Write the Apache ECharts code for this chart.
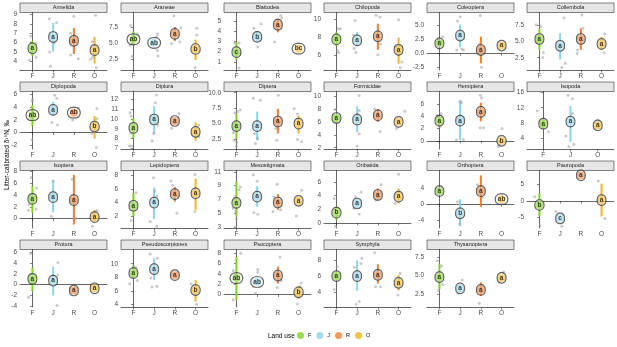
<!DOCTYPE html>
<html>
<head>
<meta charset="utf-8">
<script src="https://cdn.jsdelivr.net/npm/echarts@6/dist/echarts.min.js"></script>
<style>
html, body { margin: 0; padding: 0; background: #fff; }
#main { width: 617px; height: 347px; }
</style>
</head>
<body>
<div id="main"></div>
<script>
var landUse = ['F', 'J', 'R', 'O'];
var landColors = ['#7ED321', '#8ED4E8', '#EE7D33', '#F6B323'];

var taxa = ['Annelida', 'Araneae', 'Blattodea', 'Chilopoda', 'Coleoptera', 'Collembola',
    'Diplopoda', 'Diplura', 'Diptera', 'Formicidae', 'Hemiptera', 'Isopoda',
    'Isoptera', 'Lepidoptera', 'Mesostigmata', 'Oribatida', 'Orthoptera', 'Pauropoda',
    'Protura', 'Pseudoscorpiones', 'Psocoptera', 'Symphyla', 'Thysanoptera'];

// categories shown per panel (Isopoda has no R)
var panelCats = taxa.map(function (t) { return t === 'Isopoda' ? ['F', 'J', 'O'] : landUse; });

// y axis range and ticks per panel
var yMin = [3.1, 0.9, 0.2, 4.4, -3.0, 0.6, -2.6, 6.95, 0.9, 1.8, -1.35, 1.3, -1.6, 0.3, 2.85, -0.75, -5.95, -8.2, -4.2, 3.6, -2.4, 2.15, 0.8];
var yMax = [9.2, 9.8, 5.85, 10.8, 7.35, 9.5, 6.5, 12.8, 10.2, 10.7, 8.1, 16.2, 8.2, 8.7, 11.2, 7.7, 8.5, 9.3, 6.6, 12.1, 8.75, 9.4, 8.5];
var yTicks = [
    [4, 5, 6, 7, 8, 9], [2.5, 5, 7.5], [1, 2, 3, 4, 5], [6, 8, 10], [-2.5, 0, 2.5, 5], [2.5, 5, 7.5],
    [-2, 0, 2, 4, 6], [7, 8, 9, 10, 11, 12], [2.5, 5, 7.5, 10], [2, 4, 6, 8, 10], [0, 2, 4, 6], [4, 8, 12, 16],
    [0, 2, 4, 6, 8], [2, 4, 6, 8], [3, 5, 7, 9, 11], [0, 2, 4, 6], [-4, 0, 4], [-5, 0, 5],
    [-4, -2, 0, 2, 4, 6], [4, 6, 8, 10], [0, 2, 4, 6, 8], [4, 6, 8], [2.5, 5, 7.5]
];

// group means, interval ends and letters (order follows panelCats)
var means = [
    [5.4, 6.6, 6.2, 5.2], [5.65, 5.1, 6.5, 4.15], [1.95, 3.45, 4.65, 2.3], [7.8, 7.7, 8.15, 6.65], [1.8, 3.2, 0.6, 1.4], [5.4, 4.35, 5.4, 4.65],
    [2.75, 3.6, 3.15, 0.95], [9.1, 9.95, 9.8, 8.7], [4.6, 4.6, 5.35, 5.0], [6.6, 6.35, 7.0, 6.0], [3.3, 3.3, 4.75, 0.0], [7.85, 8.4, 7.4],
    [3.35, 3.65, 3.15, 0.25], [3.55, 4.0, 5.25, 5.35], [6.5, 7.4, 6.55, 6.8], [1.5, 2.85, 4.1, 3.85], [3.3, -2.25, 3.3, 1.3], [-1.2, -5.3, 7.8, 0.3],
    [1.1, 0.75, -1.1, -0.7], [8.6, 9.2, 8.3, 6.1], [3.2, 2.45, 3.7, 0.45], [6.05, 6.05, 6.2, 5.2], [4.8, 3.3, 3.1, 4.7]
];
var lows = [
    [4.6, 5.05, 4.8, 3.8], [4.75, null, 5.4, 2.45], [1.2, 2.95, 3.9, null], [7.05, 7.05, 6.65, 5.1], [1.3, 1.1, -1.8, null], [3.8, 2.25, 3.7, 3.7],
    [1.05, 2.65, 2.65, -0.95], [8.05, 8.45, 9.5, 7.8], [2.5, 2.3, 3.4, 3.4], [6.1, 4.4, 6.0, 5.5], [2.5, 0.1, 3.2, -0.3], [6.4, 3.2, 6.9],
    [0.95, 1.05, -1.0, -0.45], [2.0, 1.6, 4.15, 2.95], [4.5, 5.95, 5.5, 6.1], [0.45, 2.15, 3.35, 2.85], [null, -5.5, -0.6, null], [-4.5, -5.8, null, -4.7],
    [-1.25, -2.05, null, null], [7.75, 7.6, null, 4.4], [-1.0, 1.9, 2.15, -0.8], [5.5, 4.2, 5.1, 4.2], [3.2, 2.8, 2.3, 4.4]
];
var highs = [
    [6.2, 8.1, 7.55, 6.6], [6.85, null, 7.55, 5.6], [2.95, 4.0, 5.25, null], [8.6, 8.6, 9.55, 8.0], [2.3, 5.2, 3.0, null], [6.95, 6.3, 7.05, 5.7],
    [4.35, 4.85, 3.65, 2.6], [10.1, 11.3, 10.1, 9.65], [6.6, 6.95, 7.4, 6.3], [7.0, 8.4, 8.0, 6.3], [4.0, 6.6, 6.25, 0.3], [9.25, 12.45, 7.9],
    [5.6, 6.5, 7.45, 1.5], [5.35, 6.2, 6.3, 7.5], [9.65, 8.9, 7.75, 7.3], [2.4, 3.7, 5.05, 5.05], [null, 1.25, 7.25, null], [2.3, -4.8, null, 5.3],
    [3.2, 3.35, null, null], [9.7, 10.8, null, 7.6], [7.3, 3.0, 5.4, 1.7], [6.6, 8.0, 7.55, 6.2], [6.6, 3.8, 4.1, 5.0]
];
var letters = [
    ['a', 'a', 'a', 'a'], ['ab', 'ab', 'a', 'b'], ['c', 'b', 'a', 'bc'], ['a', 'a', 'a', 'a'], ['a', 'a', 'a', 'a'], ['a', 'a', 'a', 'a'],
    ['ab', 'a', 'ab', 'b'], ['a', 'a', 'a', 'a'], ['a', 'a', 'a', 'a'], ['a', 'a', 'a', 'a'], ['a', 'a', 'a', 'b'], ['a', 'a', 'a'],
    ['a', 'a', 'a', 'a'], ['a', 'a', 'a', 'a'], ['a', 'a', 'a', 'a'], ['b', 'a', 'a', 'a'], ['a', 'b', 'a', 'ab'], ['b', 'c', 'a', 'a'],
    ['a', 'a', 'a', 'a'], ['a', 'a', 'a', 'b'], ['ab', 'ab', 'a', 'b'], ['a', 'a', 'a', 'a'], ['a', 'a', 'a', 'a']
];

// raw samples: [horizontal jitter, value] per category
var points = [
    [[[-0.08, 6.7], [0.18, 5.9], [-0.15, 4.15], [0.18, 4.45]], [[-0.18, 8.55], [0.16, 8.1], [0.05, 6.0], [-0.16, 5.0], [-0.13, 3.5]], [[0, 8.8], [-0.16, 7.0], [-0.16, 4.7], [0.21, 4.3]], [[0.05, 8.9], [-0.1, 6.1], [-0.2, 4.25], [0.08, 3.35], [-0.08, 4.45]]],
    [[[-0.13, 7.8], [0.19, 6.5], [-0.16, 4.75], [-0.06, 3.0]], [[0.16, 6.5], [0.13, 6.1], [0.16, 3.9], [0.19, 3.05]], [[-0.05, 9.3], [0.29, 7.45], [-0.16, 5.0], [0.24, 5.25]], [[0.06, 7.35], [0.06, 6.3], [-0.02, 1.3], [-0.05, 4.0]]],
    [[[-0.08, 2.85], [0.13, 2.85], [0.18, 1.85], [0.13, 0.4]], [[-0.16, 4.3], [0.19, 4.75], [0.03, 2.45], [0.11, 3.1]], [[0.13, 5.55], [0.19, 5.3], [-0.16, 2.95]], []],
    [[[0.08, 9.0], [0.19, 9.0], [0.05, 6.6], [0.11, 6.35], [-0.05, 7.9]], [[-0.1, 9.9], [-0.15, 6.8], [-0.06, 6.35], [-0.18, 8.3]], [[-0.08, 10.5], [0.1, 10.3], [0, 6.1], [0.13, 7.3]], [[0, 10.0], [-0.16, 7.0], [0.16, 5.3], [0.08, 4.65]]],
    [[[0.16, 3.0], [-0.03, 0.8], [0.1, 1.9]], [[0, 6.6], [-0.13, 5.8], [-0.16, 0.6], [0.08, 0.8], [0.16, 0.6]], [[-0.03, 6.8], [-0.08, 1.7], [-0.03, -0.1], [0.03, -2.5]], []],
    [[[-0.16, 7.6], [0.06, 7.35], [-0.13, 4.9], [0.19, 3.3], [0.16, 2.55]], [[0.19, 8.65], [0.24, 1.65], [0.08, 1.0]], [[0.05, 9.1], [0.1, 7.05], [-0.15, 3.7], [-0.18, 3.15]], [[0.15, 6.2], [0.13, 3.25]]],
    [[[0, 5.25], [0, 4.95], [-0.02, -1.15]], [[0.08, 5.9], [0.18, 5.45], [-0.06, 1.6], [0.21, 1.2]], [[0.21, 3.9], [-0.06, 2.0]], [[0.11, 3.8], [0.11, 2.2], [-0.13, -0.1], [0.08, -2.35]]],
    [[[-0.16, 10.65], [-0.11, 10.3], [-0.19, 7.25], [-0.08, 7.25], [-0.13, 8.55]], [[0.11, 12.45], [0.06, 11.65], [-0.02, 8.55], [-0.1, 7.8], [0.18, 9.4]], [[0.19, 10.55], [-0.16, 9.05]], [[0.16, 9.4], [0.16, 8.2]]],
    [[[-0.08, 6.75], [0.05, 6.95], [0.18, 7.2], [-0.15, 3.55], [-0.11, 2.3], [0.02, 2.0], [0, 1.3]], [[-0.18, 9.1], [0.16, 8.8], [-0.13, 3.4], [0.03, 2.6], [-0.08, 1.8]], [[0.02, 9.6], [-0.05, 2.3], [-0.1, 4.2]], [[-0.21, 7.4], [-0.05, 6.55], [-0.05, 2.45], [0.15, 2.1]]],
    [[[-0.05, 7.9], [0.03, 5.85]], [[0.1, 10.1], [0.1, 7.75], [0.03, 7.2], [0.1, 4.15], [0, 2.25]], [[-0.16, 8.0], [0.11, 4.5]], [[0.3, 7.65], [-0.1, 5.0]]],
    [[[0.08, 4.5], [-0.11, 4.2], [-0.03, 2.5], [0.05, 2.35]], [[0, 6.5], [0.06, 6.25], [-0.18, 0.15], [0.16, 0.2]], [[-0.03, 7.5], [0.03, 7.05], [-0.03, 2.15], [0.13, 2.15], [0.19, 4.75]], [[0.02, 2.0], [-0.08, -0.7], [-0.16, -0.95]]],
    [[[-0.22, 11.2], [-0.12, 8.25], [0.19, 5.75]], [[-0.09, 15.2], [0.07, 14.3], [0.07, 10.5], [-0.17, 4.7], [-0.06, 1.95], [0.12, 2.55]], [[0, 8.7], [-0.07, 6.55]]],
    [[[-0.06, 7.0], [0.21, 5.2], [-0.15, 2.4], [-0.19, 1.4], [0.18, 1.65]], [[0, 6.4], [-0.08, 0.4]], [[-0.08, 6.7], [0.1, 0.0]], [[0.13, 1.4], [-0.1, -1.3], [-0.06, 0.8]]],
    [[[-0.13, 3.55], [0.13, 5.45], [-0.11, 1.4]], [[-0.03, 7.65], [0.03, 5.7], [0.13, 4.95], [-0.19, 1.25], [0.13, 0.55]], [[-0.19, 7.15], [-0.11, 6.55], [0.1, 2.45], [0.16, 4.95]], [[-0.03, 8.1], [-0.03, 2.7]]],
    [[[0.18, 8.8], [0.13, 8.4], [-0.08, 7.4], [-0.15, 5.7], [-0.03, 5.25], [0, 4.15], [-0.03, 3.0]], [[-0.19, 10.6], [0, 9.65], [-0.16, 5.1], [0.03, 4.85]], [[-0.03, 9.2], [-0.23, 5.25], [0.13, 5.5], [-0.19, 7.4]], [[0.15, 8.35], [-0.11, 4.6]]],
    [[[-0.11, 3.6], [-0.05, -0.5]], [[0.19, 4.55], [-0.16, 2.15], [0.1, 1.3], [-0.1, 3.85]], [[0.16, 5.6], [-0.1, 3.35]], [[0, 7.15], [-0.16, 2.85]]],
    [[], [[-0.13, 0.65], [-0.02, -4.9]], [[-0.16, 4.9], [0.08, 1.75]], []],
    [[[-0.23, 1.3], [0.03, -7.5]], [[-0.21, -3.2], [0.08, -7.7]], [], [[-0.16, 6.1], [0.16, -5.3]]],
    [[[-0.08, 5.85], [-0.19, -2.35]], [[0.23, 4.15], [0.23, 1.8], [0.19, -3.9]], [], []],
    [[[0, 9.7], [0.13, 9.45], [-0.18, 7.05], [0.19, 7.5]], [[-0.19, 11.45], [0.16, 10.8], [-0.11, 6.55], [0.13, 6.65], [-0.16, 7.9]], [], [[-0.21, 7.05], [0.05, 4.0]]],
    [[[0.21, 8.0], [-0.15, 4.65], [-0.15, -1.0]], [[0.03, 4.85], [0.03, 4.35], [-0.08, 0.25]], [[0.1, 7.3], [-0.03, 1.4], [0.16, 2.75]], [[0.13, 2.25], [0.1, 1.5], [-0.06, -1.8]]],
    [[[0.03, 7.25], [-0.11, 4.35]], [[0.23, 8.3], [0.18, 7.65], [-0.13, 7.15], [-0.05, 2.5], [0.1, 2.85]], [[-0.15, 9.0], [-0.11, 4.7], [0.13, 4.7]], [[0.08, 6.4], [-0.03, 3.65]]],
    [[[-0.1, 7.0], [0.1, 6.3], [-0.05, 3.0], [0.15, 3.8]], [[0.1, 4.4], [-0.1, 2.6]], [[0.1, 3.6], [-0.08, 1.3]], [[0.1, 5.5], [-0.1, 4.1]]]
];

var colLefts = [20, 121, 224, 324, 427, 527];
var panelW = 87, plotH = 57.5, stripH = 9.5, rowPitch = 79, firstTop = 3;
var fontFam = '"Liberation Sans", Arial, sans-serif';

var chart = echarts.init(document.getElementById('main'), null, { renderer: 'canvas' });

var grids = [], xAxes = [], yAxes = [], series = [], graphics = [];

taxa.forEach(function (name, k) {
    var row = Math.floor(k / 6), col = k % 6;
    var left = colLefts[col];
    var stripTop = firstTop + row * rowPitch;
    var cats = panelCats[k];
    var n = cats.length;

    grids.push({ left: left, top: stripTop + stripH, width: panelW, height: plotH });

    var tickIdx = cats.map(function (c, i) { return i; });
    xAxes.push({
        gridIndex: k, type: 'value', min: -0.6, max: n - 0.4,
        axisLine: { show: true, lineStyle: { color: '#000', width: 0.6 } },
        axisTick: { show: true, length: 2.5, customValues: tickIdx, lineStyle: { color: '#333', width: 0.6 } },
        axisLabel: {
            customValues: tickIdx, fontSize: 6.5, color: '#4d4d4d', margin: 3, fontFamily: fontFam,
            formatter: function (v) { return cats[Math.round(v)]; }
        },
        splitLine: { show: false }
    });

    var ticks = yTicks[k];
    var dec = ticks.some(function (t) { return t % 1 !== 0; }) ? 1 : 0;
    yAxes.push({
        gridIndex: k, type: 'value', min: yMin[k], max: yMax[k],
        axisLine: { show: true, lineStyle: { color: '#000', width: 0.6 } },
        axisTick: { show: true, length: 2.5, customValues: ticks, lineStyle: { color: '#333', width: 0.6 } },
        axisLabel: {
            customValues: ticks, fontSize: 6.5, color: '#4d4d4d', margin: 3, fontFamily: fontFam,
            formatter: function (v) { return v.toFixed(dec); }
        },
        splitLine: { show: false }
    });

    // jittered raw points
    var ptData = [];
    points[k].forEach(function (arr, i) {
        arr.forEach(function (p) { ptData.push([i + p[0], p[1]]); });
    });
    series.push({
        type: 'scatter', xAxisIndex: k, yAxisIndex: k, silent: true,
        symbolSize: 3, data: ptData,
        itemStyle: { color: 'rgba(160,160,160,0.7)' }
    });

    // interval bars
    var barData = [];
    cats.forEach(function (c, i) {
        if (lows[k][i] != null) barData.push([i, lows[k][i], highs[k][i], landUse.indexOf(c)]);
    });
    series.push({
        type: 'custom', xAxisIndex: k, yAxisIndex: k, silent: true,
        data: barData,
        renderItem: function (params, api) {
            var a = api.coord([api.value(0), api.value(1)]);
            var b = api.coord([api.value(0), api.value(2)]);
            return {
                type: 'line',
                shape: { x1: a[0], y1: a[1], x2: b[0], y2: b[1] },
                style: { stroke: landColors[api.value(3)], lineWidth: 2 }
            };
        }
    });

    // group means with letters
    var meanData = cats.map(function (c, i) {
        return {
            value: [i, means[k][i]],
            itemStyle: { color: landColors[landUse.indexOf(c)] },
            label: { formatter: letters[k][i] }
        };
    });
    series.push({
        type: 'scatter', xAxisIndex: k, yAxisIndex: k, silent: true, z: 5,
        symbolSize: 8, data: meanData,
        label: {
            show: true, position: 'inside', fontSize: 6.5, fontWeight: 'bold', color: '#111',
            fontFamily: fontFam,
            backgroundColor: 'rgba(255,255,255,0.35)', borderColor: '#222', borderWidth: 0.6,
            borderRadius: 5, padding: [2, 2.5, 1.5, 2.5]
        }
    });

    // facet strip
    graphics.push({
        type: 'rect', silent: true,
        shape: { x: left, y: stripTop, width: panelW, height: stripH },
        style: { fill: '#e6e6e6', stroke: '#333', lineWidth: 0.6 }
    });
    graphics.push({
        type: 'text', silent: true, x: left + panelW / 2, y: stripTop + stripH / 2,
        style: { text: name, fontSize: 5.5, fill: '#1a1a1a', align: 'center', verticalAlign: 'middle', fontFamily: fontFam }
    });
});

// legend-only series
landUse.forEach(function (c, i) {
    series.push({ type: 'scatter', name: c, data: [], itemStyle: { color: landColors[i] } });
});

graphics.push({
    type: 'text', silent: true, x: 7, y: 155, rotation: Math.PI / 2,
    style: { text: 'Litter-calibrated δ¹⁵N, ‰', fontSize: 6.5, fill: '#000', align: 'center', verticalAlign: 'middle', fontFamily: fontFam }
});
graphics.push({
    type: 'text', silent: true, x: 268, y: 336,
    style: { text: 'Land use', fontSize: 6.5, fill: '#000', align: 'left', verticalAlign: 'middle', fontFamily: fontFam }
});

chart.setOption({
    animation: false,
    backgroundColor: '#fff',
    grid: grids,
    xAxis: xAxes,
    yAxis: yAxes,
    legend: {
        data: landUse, left: 297, top: 332, icon: 'circle',
        itemWidth: 7, itemHeight: 7, itemGap: 5, padding: 0,
        textStyle: { fontSize: 5.5, color: '#000', fontFamily: fontFam, padding: [0, 0, 0, -1] }
    },
    graphic: graphics,
    series: series
});
</script>
</body>
</html>
